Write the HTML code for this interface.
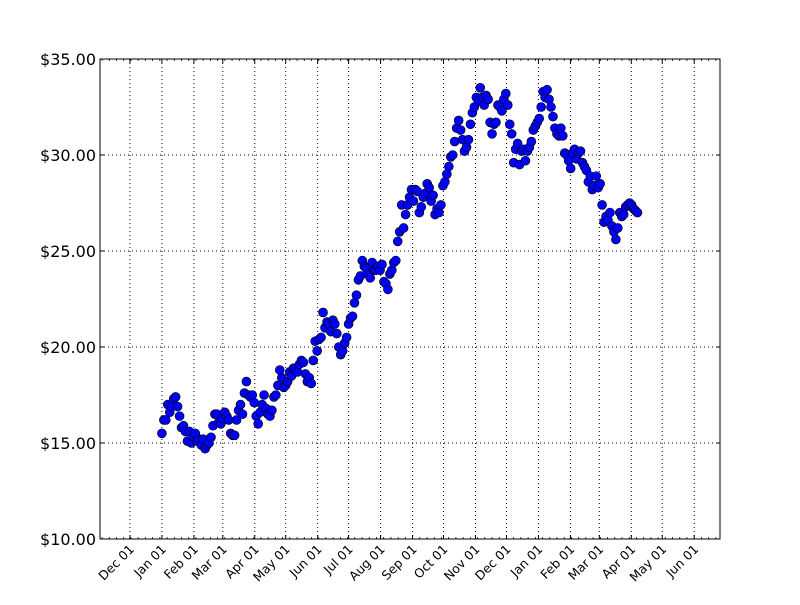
<!DOCTYPE html>
<html><head><meta charset="utf-8"><style>
body{margin:0;background:#fff;}
svg text{font-family:"DejaVu Sans","Liberation Sans",sans-serif;}
</style></head><body>
<svg id="chart" width="800" height="600" xmlns="http://www.w3.org/2000/svg">
<rect width="800" height="600" fill="#fff"/>
<g id="grid"></g><g id="marks"></g><g id="axes"></g>
</svg>
<script>
const tickDays=[0,31,62,90,121,151,182,212,243,274,304,335,365,396,427,455,486,516,547];
const tickLabels=["Dec 01","Jan 01","Feb 01","Mar 01","Apr 01","May 01","Jun 01","Jul 01","Aug 01","Sep 01","Oct 01","Nov 01","Dec 01","Jan 01","Feb 01","Mar 01","Apr 01","May 01","Jun 01"];
const yTicks=[10,15,20,25,30,35];
const yLabels=["$10.00","$15.00","$20.00","$25.00","$30.00","$35.00"];
const firstDay=31, lastDay=492;
const prices=[15.5,16.2,16.2,17.0,16.6,16.9,17.3,17.4,16.9,16.4,15.8,15.9,15.6,15.1,15.6,15.0,15.3,15.5,15.1,15.2,14.9,15.2,14.7,14.9,15.0,15.3,15.9,16.5,16.5,16.1,16.0,16.3,16.6,16.4,16.2,15.5,15.4,15.4,16.2,16.7,17.0,16.5,17.6,18.2,17.5,17.4,17.5,17.1,16.4,16.0,16.6,17.0,17.5,16.8,16.5,16.4,16.7,17.4,17.5,18.0,18.8,18.4,17.9,18.0,18.2,18.7,18.5,18.9,18.8,18.7,19.1,19.3,19.2,18.6,18.2,18.4,18.1,19.3,20.3,19.8,20.4,20.5,21.8,21.0,21.3,21.2,20.8,21.4,21.2,20.7,20.0,19.6,19.8,20.2,20.5,21.2,21.5,21.6,22.3,22.7,23.5,23.7,24.5,24.2,24.1,23.8,23.6,24.4,24.0,24.0,24.2,24.0,24.3,23.4,23.3,23.0,23.8,24.0,24.4,24.5,25.5,26.0,27.4,26.2,26.9,27.4,27.8,28.2,27.6,28.2,28.1,27.0,27.3,27.8,28.0,28.5,28.3,27.6,27.9,26.9,27.2,27.0,27.4,28.4,28.6,29.0,29.4,29.9,30.0,30.7,31.4,31.8,31.3,30.8,30.2,30.4,30.8,31.6,32.2,32.5,33.0,32.8,33.5,33.0,32.6,33.1,32.9,31.7,31.1,31.6,31.7,32.6,32.5,32.3,32.9,33.2,32.6,31.6,31.1,29.6,30.3,30.6,29.5,30.2,30.3,29.7,30.2,30.4,30.7,31.3,31.5,31.7,31.9,32.5,33.3,33.0,33.4,32.9,32.5,32.0,31.4,31.1,31.0,31.4,31.0,30.1,30.0,29.7,29.3,30.1,30.3,29.8,30.1,30.2,29.6,29.4,29.2,28.6,28.9,28.2,28.4,28.9,28.3,28.5,27.4,26.5,26.8,26.6,27.0,26.3,26.0,25.6,26.2,27.0,26.8,26.9,27.3,27.4,27.5,27.4,27.2,27.1,27.0];
const L=100,R=720,T=59,B=539,D0=-29,D1=572,Y0=10,Y1=35;
const xs=d=>L+(d-D0)/(D1-D0)*(R-L);
const ys=v=>B-(v-Y0)/(Y1-Y0)*(B-T);
const NS="http://www.w3.org/2000/svg";
function mk(tag,attrs,parent){const e=document.createElementNS(NS,tag);for(const k in attrs)e.setAttribute(k,attrs[k]);parent.appendChild(e);return e;}
const grid=document.getElementById('grid'),marks=document.getElementById('marks'),axes=document.getElementById('axes');
for(let d=D0+2; d<D1; d+=7){const x=xs(d);
 const m1=mk('line',{x1:x,x2:x,y1:B,y2:B-2,stroke:'#000','stroke-width':0.8},axes);
 
 
 const m2=mk('line',{x1:x,x2:x,y1:T,y2:T+2,stroke:'#000','stroke-width':0.8},axes);
 
 
}
tickDays.forEach((d,i)=>{const x=xs(d);
 const g=mk('line',{x1:x,x2:x,y1:T,y2:B,stroke:'#000','stroke-width':1,'stroke-dasharray':'1,3'},grid);
 
 
 const t1=mk('line',{x1:x,x2:x,y1:B,y2:B-4,stroke:'#000'},axes);
 
 
 const t2=mk('line',{x1:x,x2:x,y1:T,y2:T+4,stroke:'#000'},axes);
 
 
 const tx=mk('text',{x:x+5,y:B+11,'font-size':12.5,'text-anchor':'end',transform:`rotate(-45 ${x+5} ${B+11})`},axes);
 tx.textContent=tickLabels[i];
 
 
});
yTicks.forEach((v,i)=>{const y=ys(v);
 const g=mk('line',{x1:L,x2:R,y1:y,y2:y,stroke:'#000','stroke-width':1,'stroke-dasharray':'1,3'},grid);
 
 
 const t1=mk('line',{x1:L,x2:L+4,y1:y,y2:y,stroke:'#000'},axes);
 
 
 const t2=mk('line',{x1:R,x2:R-4,y1:y,y2:y,stroke:'#000'},axes);
 
 
 const tx=mk('text',{x:L-4,y:y+6,'font-size':16,'text-anchor':'end'},axes);
 tx.textContent=yLabels[i];
 
 
});
const step=(lastDay-firstDay)/(prices.length-1);
prices.forEach((p,i)=>{const d=firstDay+i*step;
 const c=mk('circle',{cx:xs(d),cy:ys(p),r:4.5,fill:'#0000ff',stroke:'#000','stroke-width':0.6},marks);
 
 
});
const fr=mk('rect',{x:L,y:T,width:R-L,height:B-T,fill:'none',stroke:'#000','stroke-width':1},axes);


</script>
</body></html>
